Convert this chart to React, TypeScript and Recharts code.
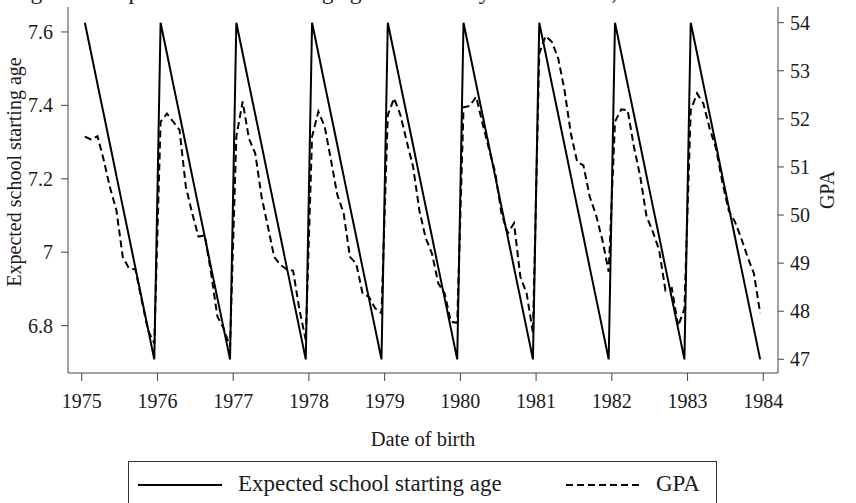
import React from 'react';
import { LineChart, Line, XAxis, YAxis, Legend, Customized } from 'recharts';

// Birth years (cohorts) and birth months
const years = [1975, 1976, 1977, 1978, 1979, 1980, 1981, 1982, 1983];
const months = [1, 2, 3, 4, 5, 6, 7, 8, 9, 10, 11, 12];

// Expected school starting age by month of birth (years)
const expectedAgeByMonth = [7.625, 7.542, 7.458, 7.375, 7.292, 7.208, 7.125, 7.042, 6.958, 6.875, 6.792, 6.708];

// GPA by month of birth, one array per birth year
const gpa1975 = [51.63, 51.57, 51.64, 51.14, 50.56, 50.10, 49.13, 48.89, 48.87, 48.23, 47.61, 47.33];
const gpa1976 = [51.94, 52.11, 51.94, 51.77, 50.59, 50.04, 49.55, 49.58, 48.79, 47.89, 47.64, 47.26];
const gpa1977 = [51.63, 52.36, 51.59, 51.28, 50.38, 49.76, 49.13, 48.96, 48.87, 48.84, 48.03, 47.40];
const gpa1978 = [51.63, 52.15, 51.84, 51.14, 50.42, 50.04, 49.13, 48.99, 48.37, 48.30, 48.06, 47.96];
const gpa1979 = [52.08, 52.43, 52.08, 51.53, 51.01, 50.10, 49.52, 49.20, 48.58, 48.37, 47.78, 47.76];
const gpa1980 = [52.24, 52.27, 52.46, 51.91, 51.39, 50.90, 50.04, 49.62, 49.83, 48.72, 48.37, 47.55];
const gpa1981 = [53.36, 53.72, 53.60, 53.26, 52.60, 51.70, 51.11, 51.03, 50.38, 50.00, 49.48, 48.82];
const gpa1982 = [51.94, 52.20, 52.18, 51.42, 50.80, 49.97, 49.65, 49.27, 48.43, 48.48, 47.69, 48.05];
const gpa1983 = [52.18, 52.53, 52.32, 51.80, 51.39, 50.69, 50.10, 49.86, 49.52, 49.13, 48.79, 47.96];
const gpaByYear = [gpa1975, gpa1976, gpa1977, gpa1978, gpa1979, gpa1980, gpa1981, gpa1982, gpa1983];

// Axis ticks
const xTicks = [1975, 1976, 1977, 1978, 1979, 1980, 1981, 1982, 1983, 1984];
const ageTicks = [6.8, 7, 7.2, 7.4, 7.6];
const gpaTicks = [47, 48, 49, 50, 51, 52, 53, 54];

const rows = years.flatMap((y, yi) =>
  months.map((m, mi) => ({
    date: y + (m - 0.5) / 12,
    age: expectedAgeByMonth[mi],
    gpa: gpaByYear[yi][mi],
  }))
);

const FONT = '"Liberation Serif", "Times New Roman", serif';
const AXIS = '#444';
const TEXT = '#1a1a1a';

const Titles = () => (
  <g fontFamily={FONT} fill={TEXT}>
    <text x={11} y={-1} fontSize={23.5}>
      Figure 1: Expected school starting age and GPA by date of birth, 1975–1983
    </text>
    <text x={21} y={172} fontSize={20} textAnchor="middle" transform="rotate(-90, 21, 172)">
      Expected school starting age
    </text>
    <text x={834} y={190} fontSize={20} textAnchor="middle" transform="rotate(-90, 834, 190)">
      GPA
    </text>
    <text x={423} y={446} fontSize={20.5} textAnchor="middle">
      Date of birth
    </text>
  </g>
);

const LegendBox = (props: any) => {
  const payload = props.payload || [];
  const slots = [
    { x1: 10, x2: 94, tx: 110 },
    { x1: 438, x2: 515, tx: 528 },
  ];
  return (
    <svg width={589} height={42} style={{ display: 'block' }}>
      <rect x={0.5} y={0.5} width={588} height={60} fill="#fff" stroke="#333" strokeWidth={1} />
      {payload.slice(0, 2).map((p: any, i: number) => (
        <g key={i}>
          <line
            x1={slots[i].x1}
            x2={slots[i].x2}
            y1={24}
            y2={24}
            stroke="#000"
            strokeWidth={2}
            strokeDasharray={p.payload && p.payload.strokeDasharray ? p.payload.strokeDasharray : undefined}
          />
          <text x={slots[i].tx} y={30} fontFamily={FONT} fontSize={23} fill={TEXT}>
            {p.value}
          </text>
        </g>
      ))}
    </svg>
  );
};

export default function App() {
  const tickStyle = { fontFamily: FONT, fontSize: 20, fill: TEXT };
  return (
    <div style={{ position: 'absolute', left: 0, top: 0, width: 856, height: 503, overflow: 'hidden', background: '#fff' }}>
      <LineChart width={856} height={503} data={rows} margin={{ top: 7, right: 18, bottom: 100, left: 0 }}>
        <XAxis
          dataKey="date"
          type="number"
          domain={[1974.819, 1984.194]}
          allowDataOverflow
          ticks={xTicks}
          tickSize={8}
          tickMargin={13}
          height={30}
          stroke={AXIS}
          tick={tickStyle}
          interval={0}
        />
        <YAxis
          yAxisId="age"
          orientation="left"
          width={68}
          domain={[6.671, 7.668]}
          allowDataOverflow
          ticks={ageTicks}
          tickSize={7}
          tickMargin={8}
          stroke={AXIS}
          tick={tickStyle}
          interval={0}
        />
        <YAxis
          yAxisId="gpa"
          orientation="right"
          width={60}
          domain={[46.715, 54.326]}
          allowDataOverflow
          ticks={gpaTicks}
          tickSize={6}
          tickMargin={6}
          stroke={AXIS}
          tick={tickStyle}
          interval={0}
        />
        <Line
          yAxisId="age"
          dataKey="age"
          name="Expected school starting age"
          type="linear"
          stroke="#000"
          strokeWidth={2}
          dot={false}
          isAnimationActive={false}
        />
        <Line
          yAxisId="gpa"
          dataKey="gpa"
          name="GPA"
          type="linear"
          stroke="#000"
          strokeWidth={2}
          strokeDasharray="7 4"
          dot={false}
          isAnimationActive={false}
        />
        <Legend
          layout="horizontal"
          verticalAlign="middle"
          align="center"
          wrapperStyle={{ left: 128, top: 461, width: 589, height: 42 }}
          content={<LegendBox />}
        />
        <Customized component={<Titles />} />
      </LineChart>
    </div>
  );
}
